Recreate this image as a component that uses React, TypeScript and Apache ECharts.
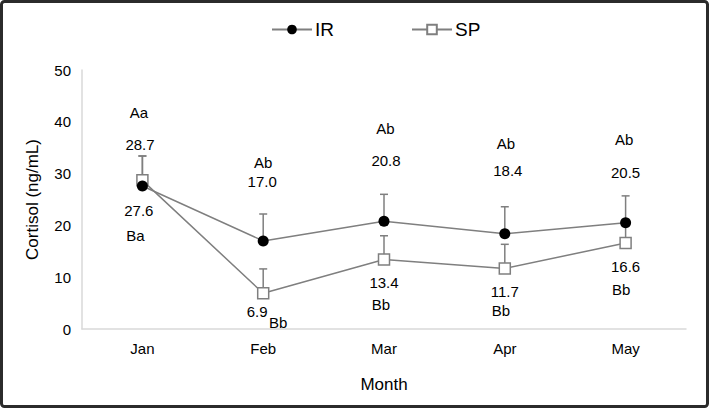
import React, { useEffect, useRef } from "react";
import * as echarts from "echarts";

const months = ["Jan", "Feb", "Mar", "Apr", "May"];
const irMean = [27.6, 17.0, 20.8, 18.4, 20.5];
const irSD = [5.8, 5.2, 5.2, 5.2, 5.2];
const spMean = [28.7, 6.9, 13.4, 11.7, 16.6];
const spSD = [4.7, 4.7, 4.6, 4.65, 4.0];
const irLetters = ["Aa", "Ab", "Ab", "Ab", "Ab"];
const spLetters = ["Ba", "Bb", "Bb", "Bb", "Bb"];
const yTicks = [0, 10, 20, 30, 40, 50];

// label offsets in px relative to the marker (layout only)
const irValOff = [[-3.6, 24], [-1, -59.4], [2, -60.3], [3, -62.7], [0, -50.8]];
const irLetOff = [[-3.6, -73.5], [0, -78.4], [1.5, -92.3], [1, -89.7], [-1.5, -83.3]];
const spValOff = [[-2.4, -36.3], [-6, 18.7], [0, 22.9], [0, 23.1], [0, 23]];
const spLetOff = [[-7, 54.7], [15, 29.2], [-3, 45.4], [-4, 42.6], [-4.5, 46]];

const GREY = "#7f7f7f";
const FONT = "'Liberation Sans', Arial, sans-serif";

export default function App() {
  const ref = useRef<HTMLDivElement>(null);
  useEffect(() => {
    if (!ref.current) return;
    const chart = echarts.init(ref.current, null, { renderer: "svg" });

    const annotations: { i: number; v: number; text: string; off: number[] }[] = [];
    months.forEach((_, i) => {
      annotations.push({ i, v: irMean[i], text: irMean[i].toFixed(1), off: irValOff[i] });
      annotations.push({ i, v: irMean[i], text: irLetters[i], off: irLetOff[i] });
      annotations.push({ i, v: spMean[i], text: spMean[i].toFixed(1), off: spValOff[i] });
      annotations.push({ i, v: spMean[i], text: spLetters[i], off: spLetOff[i] });
    });

    const errRender = (params: any, api: any) => {
      const i = api.value(0);
      const m = api.value(1);
      const sd = api.value(2);
      const p0 = api.coord([i, m]);
      const p1 = api.coord([i, m + sd]);
      const st = { stroke: GREY, lineWidth: 1.5 };
      return {
        type: "group",
        children: [
          { type: "line", shape: { x1: p0[0], y1: p0[1], x2: p1[0], y2: p1[1] }, style: st },
          { type: "line", shape: { x1: p1[0] - 4, y1: p1[1], x2: p1[0] + 4, y2: p1[1] }, style: st },
        ],
      };
    };

    const option: any = {
      animation: false,
      backgroundColor: "#ffffff",
      textStyle: { fontFamily: FONT },
      graphic: [
        {
          type: "rect",
          shape: { x: 1.5, y: 1.5, width: 706, height: 405, r: 3 },
          style: { fill: "none", stroke: "#2b2b2b", lineWidth: 3 },
          silent: true,
        },
      ],
      legend: {
        left: 266,
        top: 15,
        itemWidth: 40,
        itemHeight: 12,
        itemGap: 77,
        textStyle: { fontSize: 19, color: "#000", fontFamily: FONT, padding: [0, 0, 0, -2] },
        data: [{ name: "IR" }, { name: "SP" }],
      },
      grid: { left: 82, right: 23, top: 70, bottom: 79 },
      xAxis: {
        type: "category",
        data: months,
        boundaryGap: true,
        axisLine: { lineStyle: { color: "#d9d9d9", width: 1.5 } },
        axisTick: { show: false },
        axisLabel: { color: "#000", fontSize: 15, margin: 12, fontFamily: FONT },
        name: "Month",
        nameLocation: "middle",
        nameGap: 47,
        nameTextStyle: { color: "#000", fontSize: 17, fontFamily: FONT },
      },
      yAxis: {
        type: "value",
        min: yTicks[0],
        max: yTicks[yTicks.length - 1],
        interval: 10,
        splitLine: { show: false },
        axisLine: { show: true, lineStyle: { color: "#d9d9d9", width: 1.5 } },
        axisTick: { show: false },
        axisLabel: { color: "#000", fontSize: 15, margin: 11, fontFamily: FONT },
        name: "Cortisol (ng/mL)",
        nameLocation: "middle",
        nameGap: 41,
        nameTextStyle: { color: "#000", fontSize: 17, fontFamily: FONT },
      },
      series: [
        {
          name: "IR-err",
          type: "custom",
          z: 1,
          renderItem: errRender,
          encode: { x: 0, y: 1 },
          data: months.map((_, i) => [i, irMean[i], irSD[i]]),
        },
        {
          name: "SP-err",
          type: "custom",
          z: 1,
          renderItem: errRender,
          encode: { x: 0, y: 1 },
          data: months.map((_, i) => [i, spMean[i], spSD[i]]),
        },
        {
          name: "IR",
          type: "line",
          z: 3,
          data: irMean,
          symbol: "circle",
          symbolSize: 11,
          itemStyle: { color: "#000", borderColor: "#000", borderWidth: 0 },
          lineStyle: { color: GREY, width: 1.5 },
        },
        {
          name: "SP",
          type: "line",
          z: 2,
          data: spMean,
          symbol: "rect",
          symbolSize: 11,
          itemStyle: { color: "#fff", borderColor: GREY, borderWidth: 1.5 },
          lineStyle: { color: GREY, width: 1.5 },
        },
        {
          name: "labels",
          type: "custom",
          z: 4,
          encode: { x: 0, y: 1 },
          data: annotations.map((a) => [a.i, a.v]),
          renderItem: (params: any, api: any) => {
            const a = annotations[params.dataIndex];
            const p = api.coord([a.i, a.v]);
            return {
              type: "text",
              x: p[0] + a.off[0],
              y: p[1] + a.off[1],
              style: {
                text: a.text,
                align: "center",
                verticalAlign: "middle",
                fontSize: 15,
                fontFamily: FONT,
                fill: "#000",
              },
            };
          },
        },
      ],
    };
    chart.setOption(option);
    return () => chart.dispose();
  }, []);
  return (
    <div
      ref={ref}
      style={{ position: "absolute", left: 0, top: 0, width: 709, height: 408 }}
    />
  );
}
